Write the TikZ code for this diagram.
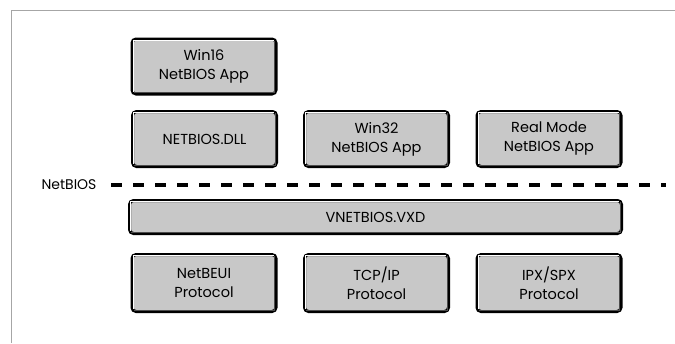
\documentclass[tikz,border=0pt]{standalone}
\usepackage{fontspec}
\setmainfont{Poppins}
\begin{document}
\begin{tikzpicture}[x=1pt,y=-1pt,
  blk/.style={draw=black, line width=3pt, fill=boxgray, rounded corners=4pt,
    minimum width=144pt, minimum height=55pt, align=center, inner sep=0pt,
    font=\fontsize{14.5}{19}\selectfont, text=black},
  frame/.style={draw=black!35, line width=1.3pt},
  sep/.style={draw=black, line width=4.5pt, dash pattern=on 11pt off 11pt}]
\definecolor{boxgray}{HTML}{C8C8C8}
\useasboundingbox (0,0) rectangle (675,343);
\coordinate (fa) at (11.5,343);
\coordinate (fb) at (11.5,10.5);
\coordinate (fc) at (675,10.5);
\draw[frame] (fa) -- (fb) -- (fc);

\node[blk] (win16) at (204,66.5) {Win16\\NetBIOS App};
\node[blk] (dll) at (204.5,139) {NETBIOS.DLL};
\node[blk] (win32) at (376.5,139) {Win32\\NetBIOS App};
\node[blk] (real) at (549,139) {Real Mode\\NetBIOS App};
\node[blk, minimum width=492pt, minimum height=33pt] (vxd) at (375.5,217) {VNETBIOS.VXD};
\node[blk, minimum height=57pt] (beui) at (204,283) {NetBEUI\\Protocol};
\node[blk, minimum height=57pt] (tcp) at (376.5,283) {TCP/IP\\Protocol};
\node[blk, minimum height=57pt] (ipx) at (549,283) {IPX/SPX\\Protocol};

\foreach \n in {win16,dll,win32,real,vxd,beui,tcp,ipx}{
  \draw[white, line width=1.1pt]
    ([xshift=2.8pt,yshift=4pt]\n.south west) -- ([xshift=2.8pt,yshift=-2.8pt]\n.north west)
    -- ([xshift=-4pt,yshift=-2.8pt]\n.north east);
  \draw[black!70, line width=1pt]
    ([xshift=-2.7pt,yshift=-3pt]\n.north east) -- ([xshift=-2.7pt,yshift=2.7pt]\n.south east)
    -- ([xshift=3pt,yshift=2.7pt]\n.south west);
}

\node[font=\fontsize{14}{16}\selectfont, text=black, inner sep=0pt] (nb) at (69,184.5) {NetBIOS};
\coordinate (dl) at (111,185);
\coordinate (dr) at (666,185);
\draw[sep] (dl) -- (dr);
\end{tikzpicture}
\end{document}
